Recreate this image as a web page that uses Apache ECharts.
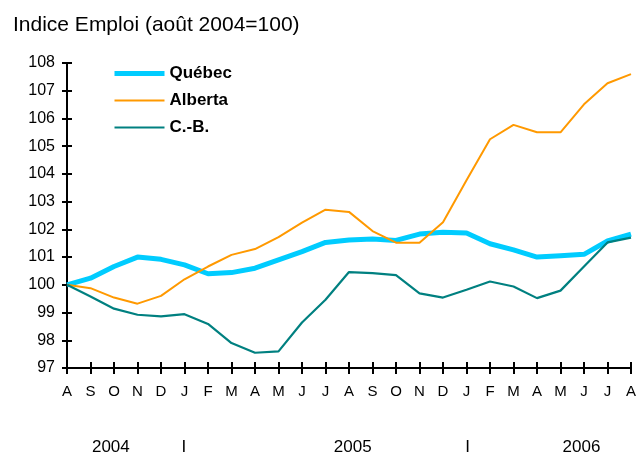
<!DOCTYPE html>
<html>
<head>
<meta charset="utf-8">
<script src="https://cdn.jsdelivr.net/npm/echarts@6/dist/echarts.min.js"></script>
<style>
  html, body { margin: 0; padding: 0; background: #fff; }
  #chart { width: 639px; height: 456px; }
</style>
</head>
<body>
<div id="chart"></div>
<script>
// mois, août 2004 à août 2006
var months = ["A","S","O","N","D","J","F","M","A","M","J","J","A","S","O","N","D","J","F","M","A","M","J","J","A"];
var quebec = [100, 100.24, 100.66, 101.0, 100.92, 100.72, 100.4, 100.44, 100.6, 100.9, 101.2, 101.53, 101.62, 101.65, 101.6, 101.83, 101.9, 101.87, 101.48, 101.26, 101.0, 101.05, 101.1, 101.58, 101.83];
var alberta = [100, 99.88, 99.54, 99.32, 99.6, 100.2, 100.66, 101.08, 101.29, 101.72, 102.24, 102.71, 102.63, 101.94, 101.52, 101.52, 102.26, 103.77, 105.25, 105.77, 105.5, 105.5, 106.51, 107.27, 107.6];
var cb = [100, 99.58, 99.14, 98.92, 98.86, 98.94, 98.59, 97.9, 97.55, 97.6, 98.64, 99.46, 100.46, 100.42, 100.35, 99.69, 99.54, 99.82, 100.12, 99.94, 99.52, 99.79, 100.66, 101.53, 101.7];
var years = [{ text: "2004", at: 1.85 }, { text: "I", at: 4.93 }, { text: "2005", at: 12.05 }, { text: "I", at: 16.9 }, { text: "2006", at: 21.7 }];

var gridLeft = 67, gridRight = 3, gridTop = 63, gridBottom = 88;
var chart = echarts.init(document.getElementById("chart"));
var step = (639 - gridLeft - gridRight) / (months.length - 1);

var font = "Liberation Sans, Arial, sans-serif";
var tickStyle = { color: "#000", width: 2 };

var option = {
  animation: false,
  textStyle: { fontFamily: font },
  title: {
    text: "Indice Emploi (août 2004=100)",
    left: 8, top: 10,
    textStyle: { fontSize: 21, fontWeight: "normal", color: "#000", fontFamily: font }
  },
  legend: {
    orient: "vertical",
    left: 107, top: 60,
    itemWidth: 50, itemHeight: 12, itemGap: 10,
    itemStyle: { opacity: 0 },
    textStyle: { fontSize: 17, fontWeight: "bold", color: "#000", fontFamily: font },
    data: [
      { name: "Québec", lineStyle: { width: 5 } },
      { name: "Alberta", lineStyle: { width: 2 } },
      { name: "C.-B.", lineStyle: { width: 2.2 } }
    ]
  },
  grid: { left: gridLeft, right: gridRight, top: gridTop, bottom: gridBottom },
  xAxis: [
    {
      type: "category", data: months, boundaryGap: false,
      axisLine: { lineStyle: { color: "#000", width: 2 } },
      axisTick: { show: true, interval: 0, length: 6, lineStyle: tickStyle },
      axisLabel: { interval: 0, color: "#000", fontSize: 15, margin: 16, fontFamily: font },
      splitLine: { show: false }
    },
    {
      type: "category", data: months, boundaryGap: false, position: "bottom",
      axisLine: { show: false },
      axisTick: { show: true, inside: true, interval: 0, length: 6, lineStyle: tickStyle },
      axisLabel: { show: false }
    }
  ],
  yAxis: [
    {
      type: "value", min: 97, max: 108, interval: 1,
      axisLine: { show: true, lineStyle: { color: "#000", width: 2 } },
      axisTick: { show: true, length: 5, lineStyle: tickStyle },
      axisLabel: { color: "#000", fontSize: 16, margin: 12, fontFamily: font },
      splitLine: { show: false }
    },
    {
      type: "value", min: 97, max: 108, interval: 1, position: "left",
      axisLine: { show: false },
      axisTick: { show: true, inside: true, length: 5, lineStyle: tickStyle },
      axisLabel: { show: false },
      splitLine: { show: false }
    }
  ],
  series: [
    {
      name: "Québec", type: "line", data: quebec, symbol: "none",
      lineStyle: { color: "#00CCFF", width: 5 }, itemStyle: { color: "#00CCFF" }, z: 3
    },
    {
      name: "Alberta", type: "line", data: alberta, symbol: "none",
      lineStyle: { color: "#FF9900", width: 2 }, itemStyle: { color: "#FF9900" }, z: 4
    },
    {
      name: "C.-B.", type: "line", data: cb, symbol: "none",
      lineStyle: { color: "#008080", width: 2.2 }, itemStyle: { color: "#008080" }, z: 4
    }
  ],
  graphic: years.map(function (y) {
    return {
      type: "text",
      x: gridLeft + y.at * step,
      y: 447,
      style: { text: y.text, fontSize: 17, fill: "#000", fontFamily: font, align: "center", verticalAlign: "middle" }
    };
  })
};
chart.setOption(option);
</script>
</body>
</html>
